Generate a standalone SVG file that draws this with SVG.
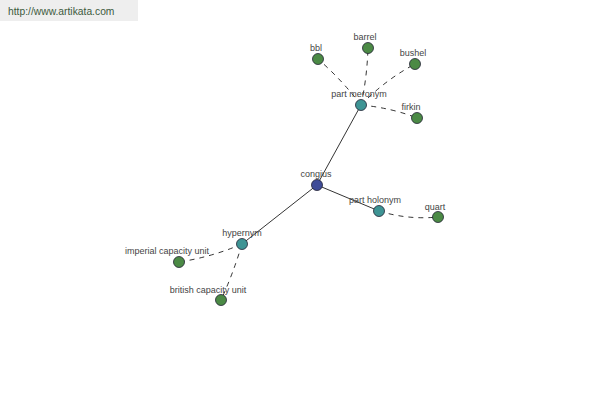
<svg xmlns="http://www.w3.org/2000/svg" width="600" height="400" viewBox="0 0 600 400">
<style>
text{font-family:"Liberation Sans",Arial,sans-serif;font-size:9px;fill:#444;text-anchor:middle}
.solid{stroke:#000;stroke-width:0.8;fill:none}
.dash{stroke:#000;stroke-width:0.8;fill:none;stroke-dasharray:5,5}
circle{stroke:#223;stroke-width:0.8}
.root{fill:#3f4c98}
.hub{fill:#3e9494}
.leaf{fill:#4b8a45}
</style>
<rect x="0" y="0" width="138" height="21" fill="#eeeeee"/>
<text x="8" y="15" style="text-anchor:start;font-size:10.3px;fill:#3d5a3d">http://www.artikata.com</text>
<g id="connectors">
<line class="solid" x1="317" y1="185" x2="361" y2="105"/>
<line class="solid" x1="317" y1="185" x2="379" y2="211"/>
<line class="solid" x1="317" y1="185" x2="242" y2="244"/>
<path class="dash" d="M361,105 Q342,80 318,59"/>
<path class="dash" d="M361,105 Q367,78 368,48"/>
<path class="dash" d="M361,105 Q385,80 415,64"/>
<path class="dash" d="M361,105 Q392,108 417,118"/>
<path class="dash" d="M379,211 Q408,220 438,217"/>
<path class="dash" d="M242,244 Q212,257 179,262"/>
<path class="dash" d="M242,244 Q233,274 221,300"/>
</g>
<g id="congius"><circle class="root" cx="317" cy="185" r="5.5"/><text x="316" y="177">congius</text></g>
<g id="part-meronym"><circle class="hub" cx="361" cy="105" r="5.5"/><text x="359" y="97">part meronym</text></g>
<g id="part-holonym"><circle class="hub" cx="379" cy="211" r="5.5"/><text x="375" y="203">part holonym</text></g>
<g id="hypernym"><circle class="hub" cx="242" cy="244" r="5.5"/><text x="242" y="236">hypernym</text></g>
<g id="bbl"><circle class="leaf" cx="318" cy="59" r="5.5"/><text x="316" y="51">bbl</text></g>
<g id="barrel"><circle class="leaf" cx="368" cy="48" r="5.5"/><text x="365" y="40">barrel</text></g>
<g id="bushel"><circle class="leaf" cx="415" cy="64" r="5.5"/><text x="413" y="56">bushel</text></g>
<g id="firkin"><circle class="leaf" cx="417" cy="118" r="5.5"/><text x="411" y="110">firkin</text></g>
<g id="quart"><circle class="leaf" cx="438" cy="217" r="5.5"/><text x="435" y="210">quart</text></g>
<g id="imperial-capacity-unit"><circle class="leaf" cx="179" cy="262" r="5.5"/><text x="167" y="254">imperial capacity unit</text></g>
<g id="british-capacity-unit"><circle class="leaf" cx="221" cy="300" r="5.5"/><text x="208" y="293">british capacity unit</text></g>
</svg>
